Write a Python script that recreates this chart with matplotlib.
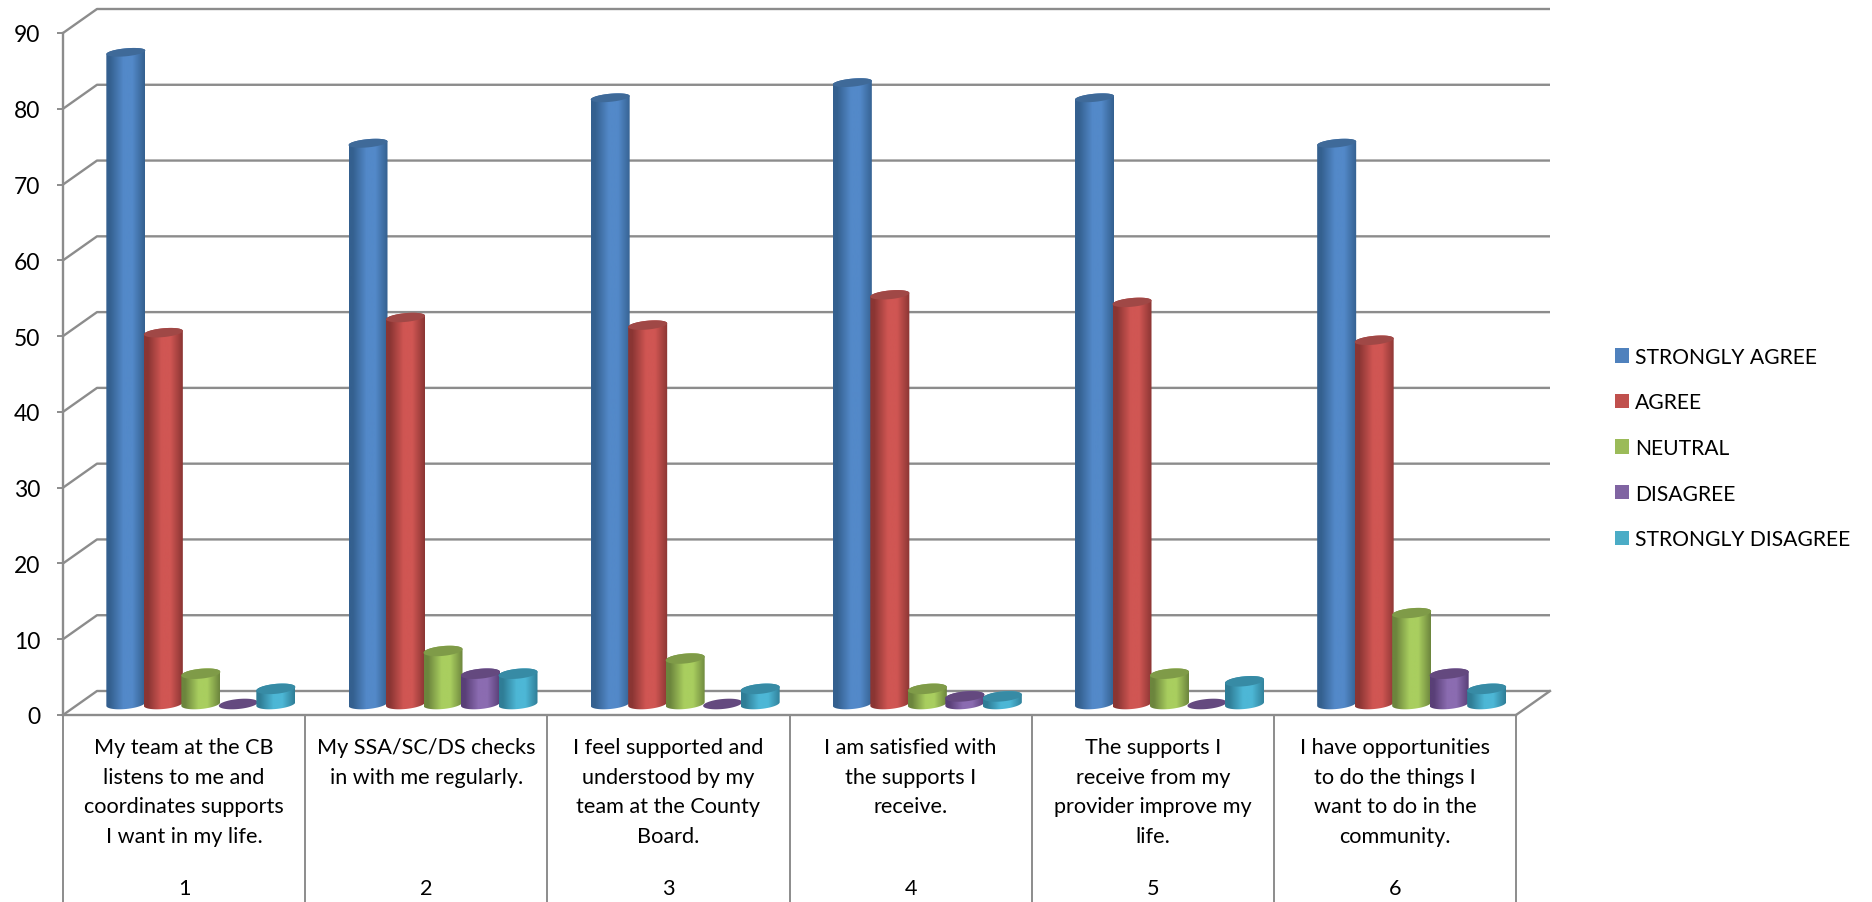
import numpy as np
from matplotlib import pyplot as plt
from matplotlib.colors import LinearSegmentedColormap
from matplotlib.patches import Polygon, Patch

plt.rcParams['font.family'] = ['Lato', 'DejaVu Sans']

# Chart values
question_numbers = ['1', '2', '3', '4', '5', '6']
questions = [
    'My team at the CB\nlistens to me and\ncoordinates supports\nI want in my life.',
    'My SSA/SC/DS checks\nin with me regularly.',
    'I feel supported and\nunderstood by my\nteam at the County\nBoard.',
    'I am satisfied with\nthe supports I\nreceive.',
    'The supports I\nreceive from my\nprovider improve my\nlife.',
    'I have opportunities\nto do the things I\nwant to do in the\ncommunity.',
]
strongly_agree = [86, 74, 80, 82, 80, 74]
agree = [49, 51, 50, 54, 53, 48]
neutral = [4, 7, 6, 2, 4, 12]
disagree = [0, 4, 0, 1, 0, 4]
strongly_disagree = [2, 4, 2, 1, 3, 2]
y_ticks = [0, 10, 20, 30, 40, 50, 60, 70, 80, 90]

series_names = ['STRONGLY AGREE', 'AGREE', 'NEUTRAL', 'DISAGREE', 'STRONGLY DISAGREE']
series_values = [strongly_agree, agree, neutral, disagree, strongly_disagree]

# legend colour, dark side, lit middle, cap
BLUE = ('#4f81bd', '#34608f', '#5389c9', '#3f6a99')
RED = ('#c0504d', '#8a3533', '#d05653', '#a04846')
GREEN = ('#9bbb59', '#6c853d', '#a9ce5f', '#7f9b48')
PURPLE = ('#8064a2', '#593f77', '#8b6cb1', '#64497f')
TEAL = ('#4bacc6', '#2f7d96', '#4db7d6', '#378ba5')
series_styles = [BLUE, RED, GREEN, PURPLE, TEAL]

GRID = '#8c8c8c'

W, H = 1872, 903
LEFT, RIGHT, BOTTOM, TOP = 63, 1516, 716, 34

fig = plt.figure(figsize=(W / 100, H / 100), dpi=100)
ax = fig.add_axes([LEFT / W, 1 - BOTTOM / H, (RIGHT - LEFT) / W, (BOTTOM - TOP) / H])
ax.set_xlim(0, len(questions))
ax.set_ylim(0, 90)

# size of one pixel in axis units
px = len(questions) / (RIGHT - LEFT)
py = 90 / (BOTTOM - TOP)

depth_x = 34 * px
depth_y = 24 * py
bar_w = 39 * px
bar_step = 37.5 * px


def draw_cylinder(left, value, style, z):
    '''one bar: shaded body and a darker tilted cap, flatter on the tall bars'''
    a = bar_w / 2
    cx = left + a
    tilt = 1.8 * py
    b_base = 5 * py
    b = (5 - 0.012 * value) * py
    base = 11 * py
    t = np.linspace(0, np.pi, 40)

    upper_x = cx + a * np.cos(t)
    upper_y = base + value + tilt * np.cos(t) + b * np.sin(t)
    lower_x = cx + a * np.cos(t + np.pi)
    lower_y = base - tilt * np.cos(t) - b_base * np.sin(t)

    _, dark, light, cap = style
    cmap = LinearSegmentedColormap.from_list('body', [(0, dark), (0.1, dark), (0.45, light), (0.68, light), (1, dark)])
    top = base + value + 7 * py
    low = base - 7 * py
    if value > 0:
        img = ax.imshow(np.linspace(0, 1, 128).reshape(1, -1), cmap=cmap, aspect='auto',
                        extent=(cx - a, cx + a, low, top), zorder=z, clip_on=True)
        outline = Polygon(np.column_stack([np.r_[lower_x, upper_x], np.r_[lower_y, upper_y]]),
                          transform=ax.transData, fill=False, edgecolor='none')
        ax.add_patch(outline)
        img.set_clip_path(outline)
    cap_x = np.r_[upper_x, cx + a * np.cos(t + np.pi)]
    cap_y = np.r_[upper_y, base + value - tilt * np.cos(t) - b * np.sin(t)]
    ax.add_patch(Polygon(np.column_stack([cap_x, cap_y]), facecolor=cap, edgecolor='none',
                         zorder=z + 0.5, clip_on=False))


# walls: slanted tick connectors and back lines
for tick in y_ticks:
    ax.plot([0, depth_x, len(questions) + depth_x], [tick, tick + depth_y, tick + depth_y],
            color=GRID, lw=1.7, clip_on=False, zorder=1, solid_capstyle='butt')
ax.plot([len(questions), len(questions) + depth_x], [0, depth_y], color=GRID, lw=1.7, clip_on=False, zorder=1)

# the table under the floor
table_bottom = -(H - BOTTOM) * py
ax.vlines(range(len(questions) + 1), table_bottom, 0, color=GRID, lw=1.4, clip_on=False, zorder=1)
ax.plot([0, len(questions)], [0, 0], color=GRID, lw=1.7, clip_on=False, zorder=1)

z = 3
for i in range(len(questions)):
    start = i + (1 - 5 * bar_step) / 2 + 0.5 * depth_x - 1 * px
    for j, values in enumerate(series_values):
        draw_cylinder(start + j * bar_step, values[i], series_styles[j], z)
        z += 1

ax.set_xlim(0, len(questions))
ax.set_ylim(0, 90)

for i, label in enumerate(questions):
    ax.text(i + 0.5, -22 * py, label, ha='center', va='top', fontsize=15.6, linespacing=1.6, color='#000000', clip_on=False)
    ax.text(i + 0.5, -173 * py, question_numbers[i], ha='center', va='center', fontsize=15.6, clip_on=False)

for s in ['top', 'right', 'bottom']:
    ax.spines[s].set_visible(False)
ax.spines['left'].set_color(GRID)
ax.spines['left'].set_linewidth(1.7)
ax.set_xticks([])
ax.set_yticks(y_ticks)
ax.tick_params(axis='y', length=4.5, width=1.4, color=GRID, labelsize=16.5, pad=12)

handles = [Patch(facecolor=style[0], edgecolor='none') for style in series_styles]
fig.legend(handles, series_names, loc='center left', bbox_to_anchor=(1596 / W, 1 - 449 / H), frameon=False,
           fontsize=15.2, handlelength=0.66, handleheight=0.66, handletextpad=0.3, labelspacing=1.21)

fig.savefig('out.png', dpi=100)
